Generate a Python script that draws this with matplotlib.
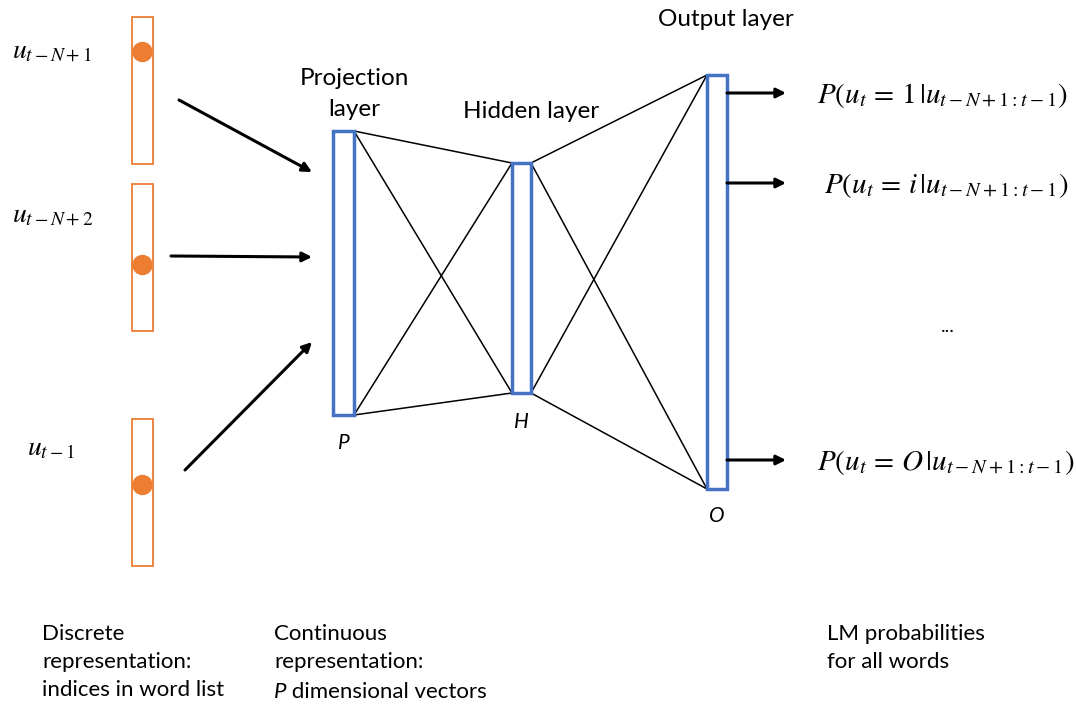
import matplotlib.pyplot as plt
from matplotlib.patches import Rectangle, Circle

plt.rcParams['mathtext.fontset'] = 'stix'
plt.rcParams['font.family'] = ['Lato', 'DejaVu Sans']

# labels
input_labels = [r'$u_{t-N+1}$', r'$u_{t-N+2}$', r'$u_{t-1}$']
layer_titles = ['Projection\nlayer', 'Hidden layer', 'Output layer']
layer_sizes = ['P', 'H', 'O']
output_labels = [r'$P(u_t\,=\,1\,|u_{t-N+1:t-1})$',
                 r'$P(u_t\,=\,i\,|u_{t-N+1:t-1})$',
                 r'$P(u_t\,=\,O\,|u_{t-N+1:t-1})$']
bottom_notes = ['Discrete\nrepresentation:\nindices in word list',
                'Continuous\nrepresentation:',
                'LM probabilities\nfor all words']

# geometry in pixel units (x0, x1, y0, y1)
input_boxes = [(132, 153, 17, 164), (132, 153, 184, 331), (132, 153, 419, 566)]
input_dots = [52, 265, 485]
layer_boxes = [(333, 354, 131, 415), (512, 531, 163, 393), (707, 727, 75, 489)]
in_arrows = [((179, 100), (312, 172)), ((171, 256), (312, 257)), ((185, 470), (312, 342))]
out_arrow_y = [93, 183, 460]

orange = '#ED7D31'
blue = '#4472C4'

fig = plt.figure(figsize=(10.76, 7.04), dpi=100)
ax = fig.add_axes([0, 0, 1, 1])
ax.set_xlim(0, 1076)
ax.set_ylim(704, 0)
ax.axis('off')

for (x0, x1, y0, y1), yd in zip(input_boxes, input_dots):
    ax.add_patch(Rectangle((x0, y0), x1 - x0, y1 - y0, fill=False, ec=orange, lw=1.3))
    ax.add_patch(Circle(((x0 + x1) / 2, yd), 9.5, color=orange))

label_pos = [(12, 50), (12, 214), (27, 448)]
for (x, y), s in zip(label_pos, input_labels):
    ax.text(x, y, s, fontsize=20, va='center', ha='left')

for a, b in in_arrows:
    ax.annotate('', xy=b, xytext=a,
                arrowprops=dict(arrowstyle='-|>', color='black', lw=2.2,
                                mutation_scale=14, shrinkA=0, shrinkB=0))

# fully connected lines between layers
for (l, r) in [(0, 1), (1, 2)]:
    xa = layer_boxes[l][1]
    xb = layer_boxes[r][0]
    for ya in (layer_boxes[l][2], layer_boxes[l][3]):
        for yb in (layer_boxes[r][2], layer_boxes[r][3]):
            ax.plot([xa, xb], [ya, yb], color='black', lw=1.1)

for (x0, x1, y0, y1) in layer_boxes:
    ax.add_patch(Rectangle((x0, y0), x1 - x0, y1 - y0, fill=False, ec=blue, lw=2.5, zorder=3))

ax.text(354, 94, layer_titles[0], fontsize=17.5, ha='center', va='center', linespacing=1.55)
ax.text(531, 112, layer_titles[1], fontsize=17.5, ha='center', va='center')
ax.text(726, 20, layer_titles[2], fontsize=17.5, ha='center', va='center')

size_pos = [(344, 443), (521, 422), (717, 516)]
for (x, y), s in zip(size_pos, layer_sizes):
    ax.text(x, y, s, fontsize=15, ha='center', va='center', style='italic')

x_out = layer_boxes[2][1]
for y in out_arrow_y:
    ax.annotate('', xy=(786, y), xytext=(x_out, y),
                arrowprops=dict(arrowstyle='-|>', color='black', lw=2.2,
                                mutation_scale=14, shrinkA=0, shrinkB=0))

out_text_pos = [(817, 96), (824, 186), (817, 463)]
for (x, y), s in zip(out_text_pos, output_labels):
    ax.text(x, y, s, fontsize=21, ha='left', va='center')
ax.text(948, 326, '...', fontsize=14, ha='center', va='center')

note_x = [42, 274, 827]
for x, s in zip(note_x, bottom_notes):
    ax.text(x, 624, s, fontsize=16, ha='left', va='top', linespacing=1.5)
# third line of the middle note, with an italic P
t = ax.text(274, 692, 'P', fontsize=16, ha='left', va='center', style='italic')
ax.annotate(' dimensional vectors', xy=(1, 0.5), xycoords=t, fontsize=16,
            ha='left', va='center')

fig.savefig('out.png', dpi=100)
